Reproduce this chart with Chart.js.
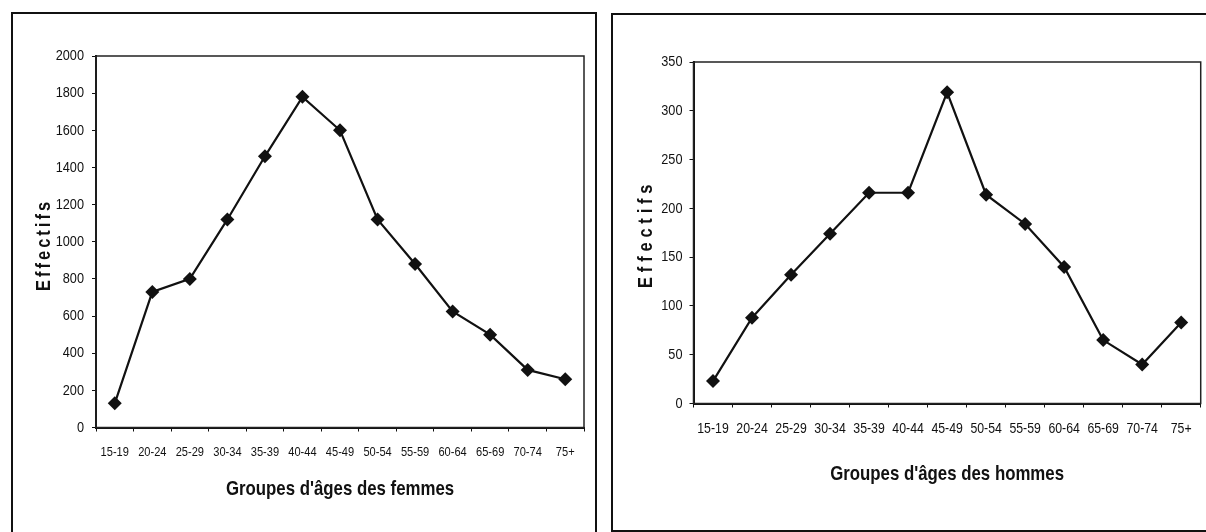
<!DOCTYPE html>
<html>
<head>
<meta charset="utf-8">
<script src="https://cdn.jsdelivr.net/npm/chart.js@4.4.1/dist/chart.umd.min.js"></script>
<style>
  html, body { margin: 0; padding: 0; background: #fff; }
  body { width: 1206px; height: 532px; position: relative; overflow: hidden; }
  .box { position: absolute; border: 2px solid #111; box-sizing: border-box; }
  #boxF { left: 11px; top: 12px; width: 586px; height: 540px; border-bottom: none; }
  #boxH { left: 611px; top: 13px; width: 620px; height: 519px; }
  canvas { position: absolute; top: 0; }
  #femmes { left: 0; }
  #hommes { left: 600px; }
</style>
</head>
<body>
<div class="box" id="boxF"></div>
<div class="box" id="boxH"></div>
<canvas id="femmes" width="600" height="532"></canvas>
<canvas id="hommes" width="606" height="532"></canvas>
<script>
// age groups shared by both charts
const ageGroups = ['15-19', '20-24', '25-29', '30-34', '35-39', '40-44', '45-49',
                   '50-54', '55-59', '60-64', '65-69', '70-74', '75+'];
// values
const femmesValues = [130, 730, 800, 1120, 1460, 1780, 1600, 1120, 880, 625, 500, 310, 260];
const hommesValues = [23, 88, 132, 174, 216, 216, 319, 214, 184, 140, 65, 40, 83];

const FONT = "'Liberation Sans', Arial, sans-serif";
const NARROW = 0.82; // no narrow face installed, so squeeze text sideways

// make every fillText on this context narrower, around its anchor point
function squeeze(ctx, k) {
  const fill = ctx.fillText.bind(ctx);
  ctx.fillText = (text, x, y, maxWidth) => {
    ctx.save();
    ctx.translate(x, y);
    ctx.scale(k, 1);
    if (maxWidth !== undefined) fill(text, 0, 0, maxWidth / k);
    else fill(text, 0, 0);
    ctx.restore();
  };
}

// box round the plot area + spaced rotated y title
const frame = {
  id: 'frame',
  beforeDatasetsDraw(chart) {
    const { ctx, chartArea: a } = chart;
    ctx.save();
    ctx.strokeStyle = '#222';
    ctx.lineWidth = 1.5;
    ctx.strokeRect(a.left, a.top, a.right - a.left, a.bottom - a.top);
    ctx.restore();
  },
  afterDraw(chart, args, opts) {
    const { ctx, chartArea: a } = chart;
    ctx.save();
    ctx.font = 'bold 20px ' + FONT;
    ctx.letterSpacing = opts.spacing + 'px';
    ctx.fillStyle = '#111';
    ctx.textAlign = 'center';
    ctx.textBaseline = 'middle';
    ctx.translate(opts.x, (a.top + a.bottom) / 2 + opts.dy);
    ctx.rotate(-Math.PI / 2);
    ctx.fillText(opts.text, opts.spacing / 2, 0);
    ctx.restore();
  }
};

function makeChart(id, values, yMax, yStep, xTitle, cfg) {
  const ctx = document.getElementById(id).getContext('2d');
  squeeze(ctx, NARROW);
  return new Chart(ctx, {
    type: 'line',
    data: {
      labels: ageGroups,
      datasets: [{
        data: values,
        borderColor: '#111',
        borderWidth: 2.2,
        backgroundColor: '#111',
        pointStyle: 'rectRot',
        pointRadius: 7,
        pointBorderWidth: 0,
        tension: 0,
        clip: false
      }]
    },
    options: {
      responsive: false,
      animation: false,
      devicePixelRatio: 1,
      layout: { autoPadding: false, padding: { top: cfg.top, right: cfg.right, left: 0, bottom: 0 } },
      plugins: {
        legend: { display: false },
        tooltip: { enabled: false },
        frame: { text: 'Effectifs', x: cfg.titleX, dy: cfg.titleDy, spacing: cfg.spacing }
      },
      scales: {
        x: {
          offset: true,
          afterFit(s) { s.height = cfg.xHeight; },
          grid: { display: true, drawOnChartArea: false, tickLength: 4, color: '#111', offset: true },
          border: { display: true, color: '#111', width: 2 },
          ticks: { color: '#111', font: { family: FONT, size: cfg.xFont }, padding: cfg.xPad,
                   maxRotation: 0, autoSkip: false },
          title: { display: true, text: xTitle, color: '#111',
                   font: { family: FONT, size: cfg.xTitleSize, weight: 'bold' },
                   padding: { top: 0, bottom: cfg.xTitlePad } }
        },
        y: {
          min: 0,
          max: yMax,
          afterFit(s) { s.width = cfg.yWidth; },
          grid: { display: true, drawOnChartArea: false, tickLength: 4, color: '#111' },
          border: { display: true, color: '#111', width: 2 },
          ticks: { stepSize: yStep, color: '#111', font: { family: FONT, size: 15.5 }, padding: cfg.yPad,
                   callback: (v) => String(v) }
        }
      }
    },
    plugins: [frame]
  });
}

makeChart('femmes', femmesValues, 2000, 200, "Groupes d'âges des femmes", {
  top: 56, right: 16, yWidth: 96, xHeight: 104.5, xFont: 13.5, xPad: 13, yPad: 8,
  xTitleSize: 20.5, xTitlePad: 30, titleX: 44, titleDy: 5, spacing: 3.7
});

makeChart('hommes', hommesValues, 350, 50, "Groupes d'âges des hommes", {
  top: 62, right: 2, yWidth: 93.5, xHeight: 128.5, xFont: 15, xPad: 12, yPad: 7,
  xTitleSize: 20.5, xTitlePad: 45, titleX: 46, titleDy: 4, spacing: 5.9
});
</script>
</body>
</html>
